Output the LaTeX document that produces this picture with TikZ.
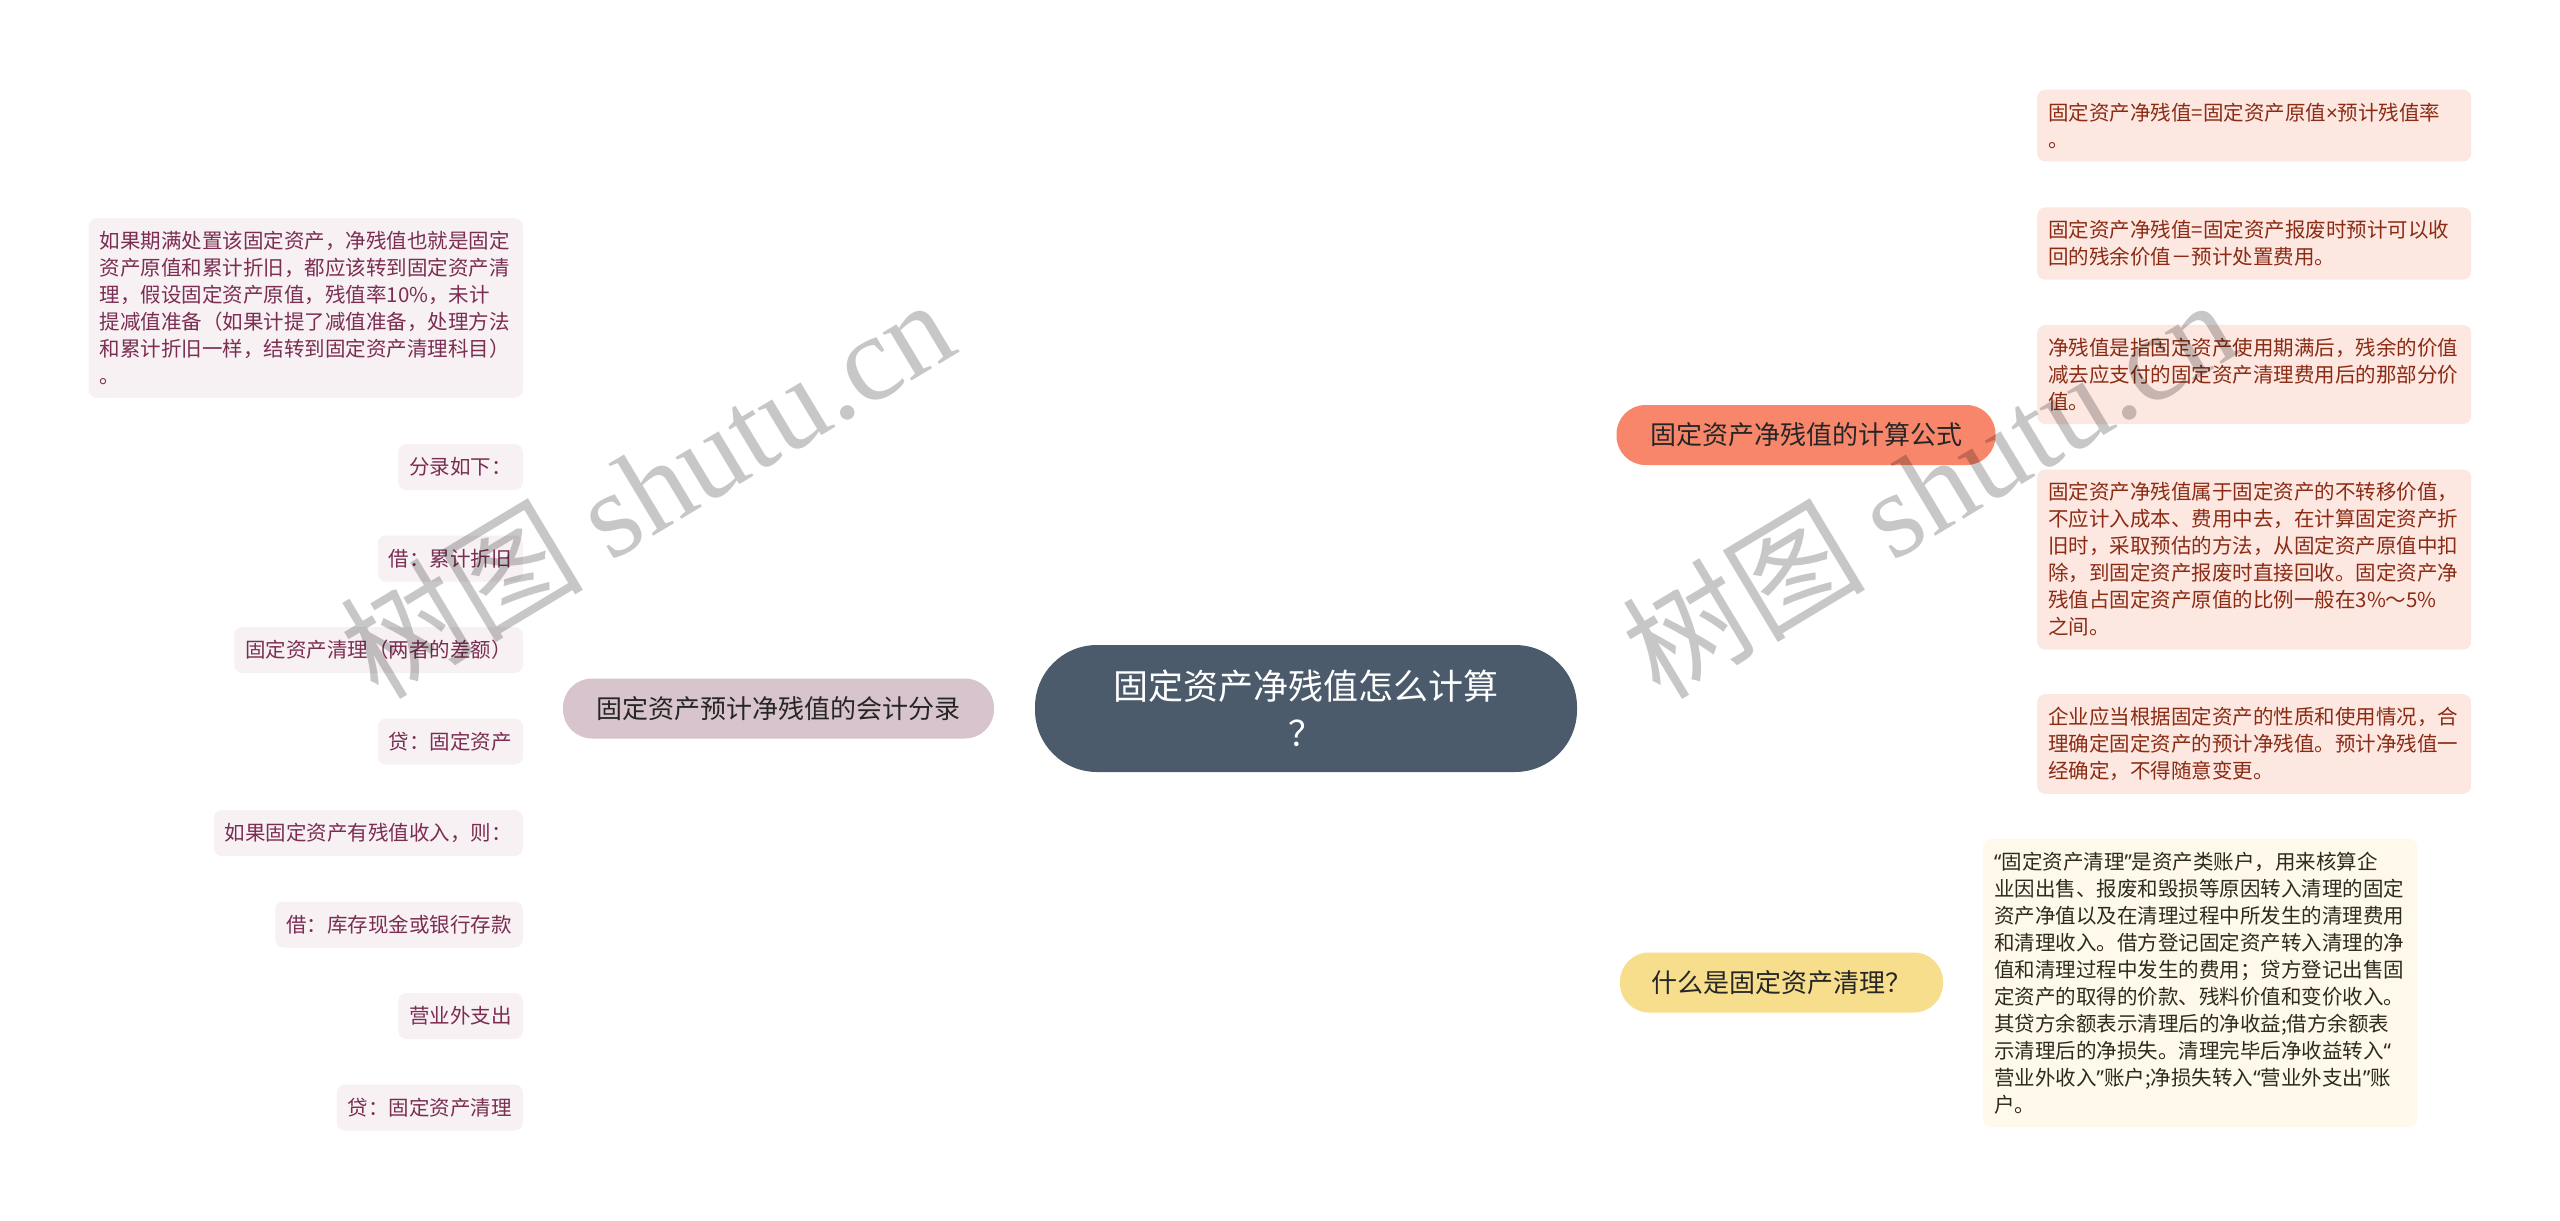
\documentclass[tikz,border=0pt]{standalone}
\usepackage{fontspec}
\setmainfont{Noto Sans CJK SC}
\newfontfamily\wmlat{Liberation Serif}
\newfontfamily\qf{Noto Sans}
\usetikzlibrary{backgrounds}
\definecolor{centralfill}{HTML}{4B5B6B}
\definecolor{salmonb}{HTML}{F7866A}
\definecolor{yellowb}{HTML}{F7DE8C}
\definecolor{mauveb}{HTML}{D8C4CC}
\definecolor{rleaf}{HTML}{FDE7E1}
\definecolor{rtext}{HTML}{8B2B14}
\definecolor{lleaf}{HTML}{F7F1F3}
\definecolor{ltext}{HTML}{7B2D52}
\definecolor{yleaf}{HTML}{FEF9EA}
\definecolor{ytext}{HTML}{2F2A1F}
\definecolor{btext}{HTML}{262626}
\definecolor{sline}{HTML}{EE8665}
\definecolor{yline}{HTML}{F3D77C}
\definecolor{mline}{HTML}{D6C2CA}
\newcommand{\myoq}{{\qf “}}
\newcommand{\mycq}{{\qf ”}}
\begin{document}
\begin{tikzpicture}[x=1pt,y=-1pt,
  central/.style={fill=centralfill, text=white, rounded corners=62pt, minimum width=542pt, minimum height=127pt, align=center, inner sep=0pt, font=\fontsize{35}{47}\selectfont},
  branch/.style={minimum height=60pt, rounded corners=29pt, inner sep=0pt, text=btext, font=\fontsize{26}{30}\selectfont},
  leaftext/.style={rounded corners=8pt, font=\fontsize{20.5}{27}\selectfont, inner xsep=11pt, inner ysep=13pt},
  rleafbox/.style={leaftext, fill=rleaf, text=rtext, text width=412pt, align=left, anchor=west},
  yleafbox/.style={leaftext, fill=yleaf, text=ytext, text width=412pt, align=left, anchor=west},
  lleafbox/.style={leaftext, fill=lleaf, text=ltext, text width=412pt, align=left, anchor=east},
  lleafone/.style={leaftext, fill=lleaf, text=ltext, minimum height=46pt, inner ysep=0pt, anchor=east},
  sconn/.style={draw=sline, line width=2.6pt},
  yconn/.style={draw=yline, line width=2.6pt},
  mconn/.style={draw=mline, line width=2.6pt},
  wm/.style={text=black, opacity=0.22, font=\fontsize{122}{122}\selectfont, inner sep=0pt}
]
\useasboundingbox (0,0) rectangle (2560,1221);
\fill[white] (0,0) rectangle (2560,1221);

% central
\node[central] (c) at (1306,708.5) {固定资产净残值怎么计算\\？};

% branches
\node[branch, fill=salmonb, minimum width=379pt] (b1) at (1806,435) {固定资产净残值的计算公式};
\node[branch, fill=yellowb, minimum width=323pt] (b2) at (1781.5,982.5) {什么是固定资产清理？};
\node[branch, fill=mauveb, minimum width=431pt] (b3) at (778.5,708.5) {固定资产预计净残值的会计分录};

% right leaves
\node[rleafbox] (r1) at (2037,125.5) {固定资产净残值=固定资产原值{\qf ×}预计残值率\\。};
\node[rleafbox] (r2) at (2037,243.5) {固定资产净残值=固定资产报废时预计可以收\\回的残余价值－预计处置费用。};
\node[rleafbox] (r3) at (2037,374.5) {净残值是指固定资产使用期满后，残余的价值\\减去应支付的固定资产清理费用后的那部分价\\值。};
\node[rleafbox] (r4) at (2037,559.5) {固定资产净残值属于固定资产的不转移价值，\\不应计入成本、费用中去，在计算固定资产折\\旧时，采取预估的方法，从固定资产原值中扣\\除，到固定资产报废时直接回收。固定资产净\\残值占固定资产原值的比例一般在3\%～5\%\\之间。};
\node[rleafbox] (r5) at (2037,744) {企业应当根据固定资产的性质和使用情况，合\\理确定固定资产的预计净残值。预计净残值一\\经确定，不得随意变更。};

% yellow leaf
\node[yleafbox] (y1) at (1983,983) {\myoq 固定资产清理\mycq 是资产类账户，用来核算企\\业因出售、报废和毁损等原因转入清理的固定\\资产净值以及在清理过程中所发生的清理费用\\和清理收入。借方登记固定资产转入清理的净\\值和清理过程中发生的费用；贷方登记出售固\\定资产的取得的价款、残料价值和变价收入。\\其贷方余额表示清理后的净收益;借方余额表\\示清理后的净损失。清理完毕后净收益转入\myoq\\营业外收入\mycq 账户;净损失转入\myoq 营业外支出\mycq 账\\户。};

% left leaves
\node[lleafbox] (l1) at (523,308) {如果期满处置该固定资产，净残值也就是固定\\资产原值和累计折旧，都应该转到固定资产清\\理，假设固定资产原值，残值率10\%，未计\\提减值准备（如果计提了减值准备，处理方法\\和累计折旧一样，结转到固定资产清理科目）\\。};
\node[lleafone] (l2) at (523,467) {分录如下：};
\node[lleafone] (l3) at (523,558.5) {借：累计折旧};
\node[lleafone] (l4) at (523,650) {固定资产清理（两者的差额）};
\node[lleafone] (l5) at (523,741.5) {贷：固定资产};
\node[lleafone] (l6) at (523,833) {如果固定资产有残值收入，则：};
\node[lleafone] (l7) at (523,924.5) {借：库存现金或银行存款};
\node[lleafone] (l8) at (523,1016) {营业外支出};
\node[lleafone] (l9) at (523,1107.5) {贷：固定资产清理};

\coordinate (jl) at (549,708.5);
\coordinate (jr) at (2010,435);

\begin{scope}[on background layer]
  \draw[sconn] ([xshift=10pt]c.north) .. controls +(0,-175) and +(-276,0) .. (b1.west);
  \draw[yconn] ([xshift=10pt]c.south) .. controls +(0,178) and +(-280,0) .. (b2.west);
  \draw[mconn] (c.west) -- (b3.east);
  \draw[sconn] (b1.east) -- (jr);
  \foreach \n in {r1,r2,r3,r4,r5}
    \draw[sconn] (jr) .. controls +(11,0) and ([xshift=-17pt]\n.west) .. (\n.west);
  \draw[yconn] (b2.east) -- (y1.west);
  \draw[mconn] (b3.west) -- (jl);
  \foreach \n in {l1,l2,l3,l4,l5,l6,l7,l8,l9}
    \draw[mconn] (jl) .. controls +(-11,0) and ([xshift=17pt]\n.east) .. (\n.east);
\end{scope}

% watermarks
\node[wm, anchor=base west, rotate=31] (w1) at (378,702) {树图 {\wmlat shutu.cn}};
\node[wm, anchor=base west, rotate=31] (w2) at (1660,702) {树图 {\wmlat shutu.cn}};
\end{tikzpicture}
\end{document}
